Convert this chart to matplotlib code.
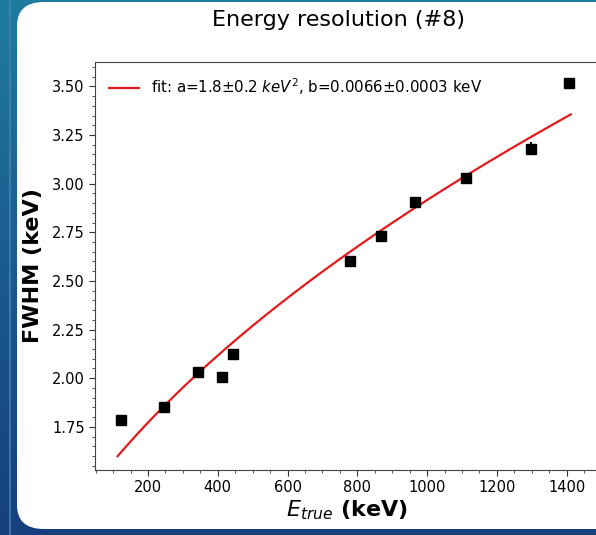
import numpy as np
import matplotlib
matplotlib.use("Agg")
import matplotlib.pyplot as plt
from matplotlib.patches import FancyBboxPatch
from matplotlib.ticker import MultipleLocator, FormatStrFormatter
from matplotlib.colors import LinearSegmentedColormap

# Data (Eu-152 lines)
energy = [121.8, 244.7, 344.3, 411.1, 444.0, 778.9, 867.4, 964.1, 1112.1, 1299.1, 1408.0]
fwhm = [1.786, 1.850, 2.032, 2.005, 2.122, 2.600, 2.730, 2.903, 3.027, 3.180, 3.516]
fwhm_err = [0.008, 0.008, 0.008, 0.008, 0.008, 0.008, 0.008, 0.008, 0.010, 0.033, 0.012]

fit_a = 1.8
fit_b = 0.0067
fit_range = [113, 1412]
legend_label = r"fit: a=1.8$\pm$0.2 $keV^2$, b=0.0066$\pm$0.0003 keV"

W, H = 596, 535
dpi = 100
fig = plt.figure(figsize=(W / dpi, H / dpi), dpi=dpi)

# slide background gradient
bg = fig.add_axes([0, 0, 1, 1], zorder=-10)
grad = np.linspace(0, 1, 256).reshape(-1, 1)
cmap = LinearSegmentedColormap.from_list("bg", ["#1f7c9e", "#1b5a90", "#173f7e"])
bg.imshow(grad, aspect="auto", cmap=cmap, extent=[0, 1, 0, 1], origin="upper")
bg.axvline(0.017, color="#4a86b0", lw=1.5, alpha=0.7)
bg.set_xlim(0, 1)
bg.set_ylim(0, 1)
bg.axis("off")

# white rounded panel
px0, py_top, py_bot, px1 = 17, 2, 529, 640
panel = FancyBboxPatch((px0 / W, 1 - py_bot / H), (px1 - px0) / W, (py_bot - py_top) / H,
                       boxstyle="round,pad=0,rounding_size=0.045",
                       transform=fig.transFigure, facecolor="white", edgecolor="none",
                       zorder=-5)
fig.patches.append(panel)

# main axes
ax_l, ax_r, ax_t, ax_b = 95, 598, 62, 470
ax = fig.add_axes([ax_l / W, 1 - ax_b / H, (ax_r - ax_l) / W, (ax_b - ax_t) / H])
ax.set_facecolor("white")

xf = np.linspace(fit_range[0], fit_range[1], 300)
yf = np.sqrt(fit_a + fit_b * xf)
ax.plot(xf, yf, color="#e31a1c", lw=1.6, label=legend_label, zorder=2)
ax.errorbar(energy, fwhm, yerr=fwhm_err, fmt="s", color="black", ms=7.5,
            elinewidth=1.5, capsize=0, zorder=3)

ax.set_xlim(48, 1490)
ax.set_ylim(1.528, 3.625)
ax.xaxis.set_major_locator(MultipleLocator(200))
ax.xaxis.set_minor_locator(MultipleLocator(50))
ax.yaxis.set_major_locator(MultipleLocator(0.25))
ax.yaxis.set_minor_locator(MultipleLocator(0.05))
ax.yaxis.set_major_formatter(FormatStrFormatter("%.2f"))
ax.tick_params(axis="both", which="major", labelsize=10.5, length=4, color="#333333")
ax.tick_params(axis="both", which="minor", length=2.5, color="#333333")
for s in ax.spines.values():
    s.set_color("#444444")

ax.set_xlabel(r"$E_{true}$ (keV)", fontsize=16, fontweight="bold", labelpad=2)
ax.set_ylabel("FWHM (keV)", fontsize=16, fontweight="bold", labelpad=6)

ax.legend(loc="upper left", frameon=False, fontsize=10.8, handlelength=2.0,
          borderaxespad=0.55)

fig.text(338 / W, 1 - 20 / H, "Energy resolution (#8)", ha="center", va="center",
         fontsize=16)

fig.savefig("out.png", dpi=dpi)
